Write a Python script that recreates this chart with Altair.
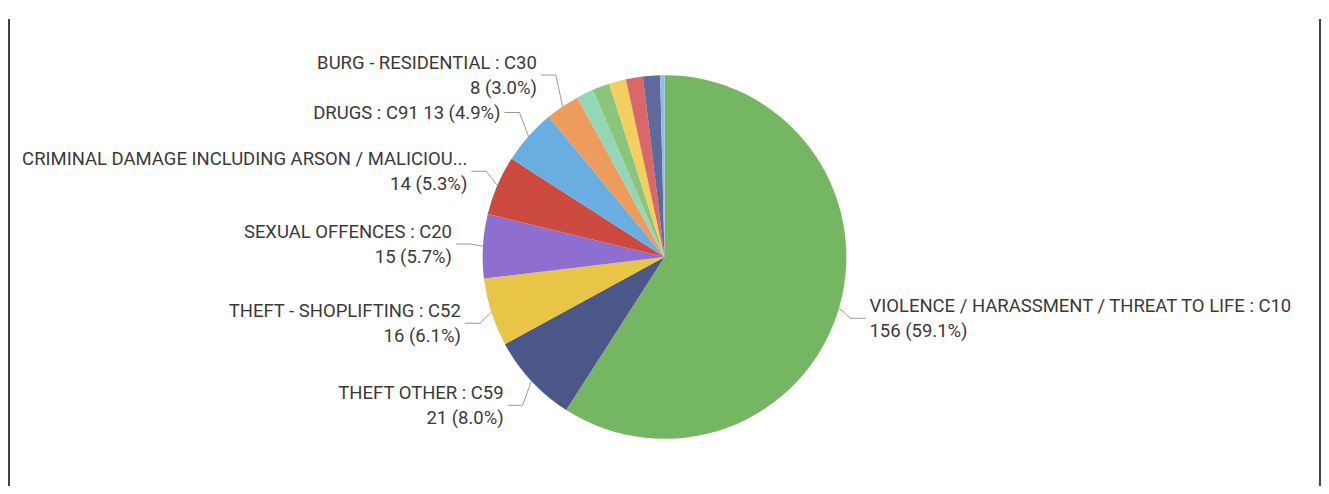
import altair as alt
import pandas as pd
import numpy as np

# ---- data ----
categories = [
    "VIOLENCE / HARASSMENT / THREAT TO LIFE : C10",
    "THEFT OTHER : C59",
    "THEFT - SHOPLIFTING : C52",
    "SEXUAL OFFENCES : C20",
    "CRIMINAL DAMAGE INCLUDING ARSON / MALICIOUS COMMUNICATIONS : C40",
    "DRUGS : C91",
    "BURG - RESIDENTIAL : C30",
    "PUBLIC ORDER : C60",
    "VEHICLE CRIME : C48",
    "ROBBERY : C31",
    "BURG - BUSINESS : C35",
    "WEAPONS : C92",
    "OTHER : C99",
]
values = [156, 21, 16, 15, 14, 13, 8, 4, 4, 4, 4, 4, 1]
display_names = [
    "VIOLENCE / HARASSMENT / THREAT TO LIFE : C10",
    "THEFT OTHER : C59",
    "THEFT - SHOPLIFTING : C52",
    "SEXUAL OFFENCES : C20",
    "CRIMINAL DAMAGE INCLUDING ARSON / MALICIOU...",
    "DRUGS : C91",
    "BURG - RESIDENTIAL : C30",
    "", "", "", "", "", "",
]
single_line = [False, False, False, False, False, True, False,
               False, False, False, False, False, False]
colors = [
    "#74B661", "#4B5788", "#E8C547", "#8E6FCF", "#CC4A40", "#6AADE0",
    "#EE9B5E", "#93D8B6", "#8CC47A", "#F2CF5E", "#D9686A", "#5E6A9C", "#8FBCEB",
]

# ---- layout (pixels) ----
W, H = 1313, 478
CX, CY, R = 657, 249, 182
EXT_X, EXT_Y, VSTRETCH = 12, 16, 1.1
HOR, GAP = 15, 4
LH = 25

total = sum(values)
df = pd.DataFrame({"cat": categories, "value": values, "idx": range(len(values))})

cum = np.cumsum([0] + values)
labels = []
for i, (name, v) in enumerate(zip(display_names, values)):
    if not name:
        continue
    mid = (cum[i] + v / 2) / total * 2 * np.pi
    dx, dy = np.sin(mid), -np.cos(mid)
    labels.append(dict(
        name=name, v=v, single=single_line[i],
        ax=CX + R * dx, ay=CY + R * dy,
        ex=CX + (R + EXT_X) * dx, ey=CY + (R + EXT_Y) * VSTRETCH * dy,
        side=1 if dx >= 0 else -1,
    ))

# simple collision resolution on each side (push upward from the bottom)
for side in (-1, 1):
    grp = sorted([l for l in labels if l["side"] == side], key=lambda l: -l["ey"])
    for a, b in zip(grp, grp[1:]):
        ha = LH / 2 if a["single"] else LH
        hb = LH / 2 if b["single"] else LH
        b["ey"] = min(b["ey"], a["ey"] - (ha + hb))

rows_line, rows_text = [], []
for l in labels:
    hx = l["ex"] + l["side"] * HOR
    for k, (px, py) in enumerate([(l["ax"], l["ay"]), (l["ex"], l["ey"]), (hx, l["ey"])]):
        rows_line.append({"cat": l["name"], "pt": k, "x": px, "y": py})
    pct = l["v"] / total * 100
    vt = f"{l['v']} ({pct:.1f}%)"
    txt = f"{l['name']} {vt}" if l["single"] else f"{l['name']}\n{vt}"
    ty = l["ey"] if l["single"] else l["ey"] - LH / 2
    rows_text.append({"txt": txt, "x": hx + l["side"] * GAP, "y": ty,
                      "align": "left" if l["side"] > 0 else "right"})

lines_df = pd.DataFrame(rows_line)
text_df = pd.DataFrame(rows_text)

xs = alt.Scale(domain=[0, W])
ys = alt.Scale(domain=[0, H], reverse=True)

pie = alt.Chart(df).mark_arc(outerRadius=R).encode(
    theta=alt.Theta("value:Q", stack=True),
    color=alt.Color("cat:N", scale=alt.Scale(domain=categories, range=colors), legend=None),
    order=alt.Order("idx:Q"),
    x=alt.value(CX),
    y=alt.value(CY),
)

leaders = alt.Chart(lines_df).mark_line(color="#9a9a9a", strokeWidth=1).encode(
    x=alt.X("x:Q", scale=xs, axis=None),
    y=alt.Y("y:Q", scale=ys, axis=None),
    detail="cat:N",
    order="pt:Q",
)

txt_base = dict(font="Roboto", fontSize=18.5, color="#3a3a3a", lineBreak="\n",
                lineHeight=LH, baseline="middle")
left_text = alt.Chart(text_df[text_df["align"] == "right"]).mark_text(
    align="right", **txt_base).encode(
    x=alt.X("x:Q", scale=xs, axis=None),
    y=alt.Y("y:Q", scale=ys, axis=None),
    text="txt:N",
)
right_text = alt.Chart(text_df[text_df["align"] == "left"]).mark_text(
    align="left", **txt_base).encode(
    x=alt.X("x:Q", scale=xs, axis=None),
    y=alt.Y("y:Q", scale=ys, axis=None),
    text="txt:N",
)

border_l = alt.Chart(df).mark_rule(color="#444444", strokeWidth=1.5).encode(
    x=alt.value(0.8), y=alt.value(11), y2=alt.value(H))
border_r = alt.Chart(df).mark_rule(color="#444444", strokeWidth=1.5).encode(
    x=alt.value(W - 0.2), y=alt.value(11), y2=alt.value(H))

chart = alt.layer(pie, leaders, left_text, right_text, border_l, border_r).properties(
    width=W, height=H, padding=0
).configure_view(strokeWidth=0)

chart.save("out.html", embed_options={"renderer": "svg", "actions": False})
